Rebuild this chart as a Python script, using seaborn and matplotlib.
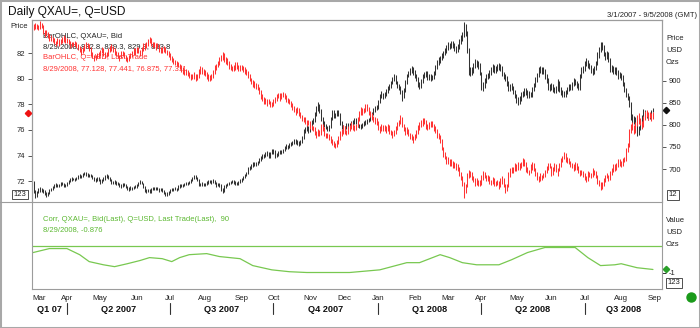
import numpy as np
import pandas as pd
import matplotlib
matplotlib.use("Agg")
import matplotlib.pyplot as plt
import matplotlib.transforms as mtrans
from matplotlib.lines import Line2D
from matplotlib.patches import Rectangle
import seaborn as sns

# ---------------------------------------------------------------- data
# Daily bars, one entry per weekday from 2007-03-01 to 2008-08-29.
gold_low = [
    664, 646,
    634, 636, 645, 649, 647,
    646, 642, 637, 639, 644,
    650, 652, 656, 660, 659,
    660, 662, 663, 660, 659,
    662, 666, 670, 673, 675,
    673, 675, 678, 680, 679,
    681, 686, 685, 681, 682,
    681, 677, 672, 670, 672,
    673, 667, 668, 672, 676,
    679, 677, 672, 665, 665,
    666, 664, 663, 660, 658,
    660, 661, 657, 653, 651,
    653, 653, 654, 656, 658,
    662, 665, 665, 657, 648,
    646, 647, 645, 646, 652,
    652, 653, 652, 649, 650,
    647, 643, 639, 640, 642,
    646, 650, 651, 652, 651,
    653, 658, 659, 660, 662,
    663, 664, 666, 669, 672,
    678, 677, 673, 661, 661,
    662, 661, 662, 664, 667,
    668, 667, 668, 665, 660,
    661, 660, 650, 645, 648,
    658, 661, 663, 665, 668,
    667, 664, 663, 664, 668,
    671, 674, 680, 684, 688,
    697, 701, 705, 706, 707,
    710, 713, 718, 722, 726,
    727, 730, 724, 726, 733,
    735, 726, 727, 729, 733,
    734, 736, 740, 745, 745,
    748, 752, 754, 757, 757,
    755, 753, 755, 759, 767,
    782, 786, 782, 783, 792,
    801, 806, 820, 832, 826,
    808, 799, 795, 790, 785,
    787, 793, 810, 815, 815,
    819, 820, 800, 791, 785,
    786, 790, 793, 794, 797,
    800, 803, 803, 796, 793,
    791, 793, 797, 800, 803,
    806, 809, 815, 822, 829,
    834, 837, 849, 861, 859,
    860, 865, 872, 879, 884,
    893, 899, 892, 883, 878,
    870, 853, 860, 874, 893,
    908, 912, 918, 914, 906,
    900, 885, 882, 884, 895,
    906, 908, 901, 902, 900,
    901, 904, 914, 926, 936,
    940, 946, 952, 958, 962,
    970, 971, 974, 975, 968,
    962, 964, 972, 984, 990,
    1000, 1002, 962, 914, 910,
    912, 918, 928, 932, 926,
    912, 880, 876, 883, 894,
    903, 907, 914, 920, 918,
    918, 922, 925, 922, 910,
    905, 900, 888, 876, 876,
    878, 870, 860, 850, 844,
    848, 855, 862, 866, 868,
    860, 861, 862, 864, 876,
    886, 898, 908, 918, 915,
    915, 905, 895, 880, 876,
    879, 874, 872, 873, 876,
    875, 867, 864, 862, 864,
    870, 876, 878, 880, 887,
    890, 884, 878, 880, 906,
    918, 922, 934, 928, 926,
    918, 912, 915, 924, 936,
    952, 966, 970, 955, 948,
    950, 942, 920, 920, 915,
    916, 912, 905, 906, 902,
    888, 874, 862, 856, 840,
    812, 804, 802, 796, 775,
    776, 788, 800, 812, 818,
    816, 812, 814, 818, 829.9,
]
gold_high = [
    677, 672,
    652, 650, 656, 659, 658,
    655, 652, 647, 649, 655,
    658, 661, 665, 668, 667,
    667, 671, 670, 668, 667,
    671, 675, 679, 681, 680,
    680, 683, 686, 688, 687,
    691, 694, 693, 690, 689,
    689, 686, 682, 679, 681,
    681, 678, 677, 681, 686,
    688, 686, 682, 678, 673,
    674, 673, 670, 668, 666,
    669, 668, 666, 662, 659,
    661, 660, 661, 663, 667,
    671, 674, 673, 669, 662,
    655, 655, 654, 657, 660,
    660, 660, 659, 657, 657,
    656, 652, 648, 647, 651,
    655, 657, 658, 659, 658,
    663, 667, 666, 667, 669,
    670, 671, 673, 677, 683,
    687, 686, 682, 678, 669,
    670, 669, 669, 673, 676,
    676, 675, 677, 676, 670,
    669, 668, 666, 657, 663,
    667, 669, 670, 673, 675,
    675, 672, 670, 673, 677,
    679, 685, 689, 694, 704,
    707, 711, 715, 715, 716,
    719, 724, 730, 734, 735,
    738, 740, 738, 739, 746,
    746, 742, 736, 740, 744,
    744, 746, 752, 756, 755,
    760, 762, 764, 768, 767,
    766, 764, 766, 774, 790,
    795, 799, 797, 800, 810,
    815, 829, 842, 852, 847,
    835, 818, 808, 803, 798,
    800, 818, 834, 833, 827,
    834, 834, 828, 808, 799,
    798, 804, 804, 805, 809,
    810, 816, 815, 811, 803,
    801, 804, 808, 810, 814,
    815, 821, 829, 838, 842,
    845, 856, 870, 876, 873,
    874, 882, 888, 893, 900,
    908, 915, 912, 900, 892,
    888, 880, 884, 902, 916,
    922, 928, 933, 931, 924,
    915, 909, 896, 905, 916,
    919, 923, 921, 916, 916,
    913, 922, 935, 946, 953,
    955, 962, 968, 974, 980,
    988, 986, 990, 989, 986,
    978, 983, 994, 1004, 1010,
    1034, 1028, 1012, 975, 930,
    930, 940, 950, 948, 944,
    940, 920, 896, 906, 916,
    918, 925, 930, 937, 936,
    933, 938, 940, 938, 933,
    920, 916, 910, 899, 893,
    894, 888, 880, 871, 862,
    866, 874, 876, 884, 884,
    878, 876, 875, 885, 895,
    908, 918, 932, 934, 932,
    930, 926, 916, 906, 892,
    894, 892, 886, 887, 903,
    900, 886, 878, 876, 880,
    885, 892, 892, 897, 906,
    905, 900, 895, 916, 930,
    934, 945, 952, 948, 940,
    935, 928, 933, 945, 964,
    976, 988, 987, 982, 964,
    968, 966, 952, 936, 934,
    932, 930, 924, 920, 918,
    912, 898, 884, 872, 866,
    852, 824, 820, 818, 806,
    797, 812, 822, 836, 834,
    832, 828, 828, 834, 839.3,
]
usd_low = [
    83.7, 83.8,
    83.9, 83.9, 83.8, 83.9, 84.0,
    83.5, 83.3, 83.4, 83.2, 83.0,
    83.0, 82.9, 82.7, 82.6, 82.7,
    82.6, 82.7, 82.8, 82.9, 82.8,
    82.8, 82.7, 82.4, 82.5, 82.6,
    82.6, 82.4, 82.3, 82.1, 81.9,
    82.0, 82.2, 82.4, 82.4, 82.2,
    81.8, 81.6, 81.4, 81.5, 81.6,
    81.6, 81.8, 82.0, 81.8, 81.6,
    81.7, 81.8, 82.1, 82.2, 82.1,
    81.9, 81.8, 81.6, 81.4, 81.6,
    81.8, 81.6, 81.4, 81.3, 81.4,
    81.6, 81.7, 81.9, 81.9, 82.0,
    82.0, 81.8, 81.9, 82.2, 82.3,
    82.4, 82.6, 82.8, 82.6, 82.4,
    82.5, 82.3, 82.4, 82.1, 82.0,
    82.0, 82.1, 82.0, 81.9, 81.7,
    81.5, 81.3, 81.2, 81.1, 81.0,
    80.9, 80.8, 80.5, 80.4, 80.3,
    80.3, 80.2, 80.1, 79.9, 80.0,
    80.0, 79.8, 79.9, 80.1, 80.4,
    80.4, 80.3, 80.2, 80.0, 79.8,
    79.8, 79.9, 80.1, 80.4, 80.7,
    80.9, 81.1, 81.4, 81.5, 81.3,
    81.2, 81.1, 80.8, 80.7, 80.6,
    80.6, 80.7, 80.8, 80.6, 80.6,
    80.7, 80.5, 80.4, 80.3, 80.1,
    79.8, 79.6, 79.4, 79.3, 79.2,
    79.1, 78.8, 78.4, 78.3, 78.0,
    78.0, 77.9, 78.0, 77.8, 77.8,
    77.9, 78.1, 78.3, 78.5, 78.3,
    78.4, 78.6, 78.4, 78.2, 78.1,
    78.0, 77.8, 77.6, 77.4, 77.2,
    77.3, 77.1, 76.9, 76.7, 76.6,
    76.5, 76.3, 76.4, 76.1, 76.0,
    75.9, 75.6, 75.4, 75.5, 75.5,
    75.6, 75.9, 75.5, 75.4, 75.4,
    75.2, 75.0, 74.8, 74.7, 74.6,
    74.7, 74.9, 75.2, 75.5, 75.7,
    75.7, 75.6, 75.7, 75.9, 76.1,
    76.0, 75.9, 76.0, 76.2, 76.7,
    77.2, 77.2, 77.3, 77.4, 77.5,
    77.2, 77.0, 76.8, 76.6, 76.5,
    76.4, 76.0, 75.8, 75.9, 75.9,
    75.9, 75.8, 75.9, 75.7, 75.6,
    75.4, 75.5, 75.7, 76.0, 76.3,
    76.5, 76.2, 75.9, 75.6, 75.7,
    75.5, 75.3, 75.2, 75.0, 75.2,
    75.4, 75.7, 76.0, 76.2, 76.3,
    76.5, 76.1, 76.0, 76.1, 76.2,
    76.2, 75.9, 75.8, 75.4, 75.3,
    75.0, 74.4, 73.9, 73.7, 73.3,
    73.3, 73.2, 73.2, 73.0, 73.0,
    72.9, 72.8, 72.4, 72.1, 71.6,
    70.7, 71.1, 71.5, 72.2, 72.3,
    72.1, 71.9, 71.6, 71.7, 71.6,
    71.6, 71.7, 72.1, 72.2, 72.0,
    72.0, 71.8, 71.7, 71.8, 71.6,
    71.6, 71.7, 71.4, 71.5, 71.8,
    71.5, 71.1, 71.2, 71.5, 72.3,
    72.6, 72.6, 72.8, 72.8, 72.9,
    72.9, 73.0, 73.2, 73.2, 72.7,
    72.6, 72.5, 72.6, 72.9, 72.8,
    72.4, 72.1, 71.9, 72.0, 72.1,
    72.2, 72.3, 72.6, 72.9, 73.0,
    72.4, 72.5, 72.8, 72.7, 72.4,
    72.8, 73.1, 73.5, 73.7, 73.5,
    73.4, 73.3, 73.1, 73.0, 72.8,
    72.9, 72.9, 72.6, 72.4, 72.5,
    72.3, 72.1, 71.9, 72.0, 72.3,
    72.2, 72.3, 72.5, 72.2, 71.8,
    71.6, 71.3, 71.4, 71.6, 71.9,
    72.2, 72.0, 72.1, 72.5, 72.7,
    72.8, 72.9, 73.1, 73.2, 73.1,
    73.2, 73.5, 73.6, 74.3, 74.7,
    75.8, 76.0, 75.7, 75.8, 76.3,
    76.5, 76.4, 76.1, 76.2, 76.8,
    77.0, 76.8, 76.9, 76.7, 76.875,
]
usd_high = [
    84.2, 84.3,
    84.4, 84.3, 84.2, 84.5, 84.4,
    84.2, 83.8, 83.8, 83.7, 83.5,
    83.4, 83.3, 83.2, 83.0, 83.2,
    83.1, 83.1, 83.3, 83.4, 83.3,
    83.2, 83.1, 83.0, 82.9, 82.9,
    83.0, 82.9, 82.7, 82.6, 82.4,
    82.5, 82.7, 82.9, 82.8, 82.7,
    82.5, 82.1, 81.9, 81.9, 82.0,
    82.1, 82.3, 82.5, 82.4, 82.1,
    82.1, 82.4, 82.6, 82.7, 82.6,
    82.4, 82.2, 82.1, 81.9, 82.2,
    82.2, 82.1, 81.9, 81.7, 81.9,
    82.0, 82.2, 82.4, 82.4, 82.5,
    82.5, 82.3, 82.5, 82.8, 82.8,
    82.9, 83.1, 83.3, 83.2, 82.9,
    82.9, 82.8, 82.8, 82.7, 82.5,
    82.5, 82.6, 82.5, 82.3, 82.2,
    82.0, 81.8, 81.6, 81.5, 81.4,
    81.3, 81.2, 81.1, 80.9, 80.8,
    80.8, 80.7, 80.5, 80.4, 80.4,
    80.5, 80.4, 80.4, 80.8, 81.0,
    80.9, 80.8, 80.7, 80.5, 80.4,
    80.3, 80.4, 80.7, 81.1, 81.2,
    81.4, 81.7, 81.9, 82.1, 82.0,
    81.7, 81.6, 81.4, 81.2, 81.0,
    81.1, 81.3, 81.3, 81.1, 81.1,
    81.1, 81.0, 80.9, 80.8, 80.6,
    80.4, 80.1, 79.9, 79.8, 79.7,
    79.6, 79.4, 79.1, 78.8, 78.6,
    78.5, 78.4, 78.4, 78.3, 78.2,
    78.4, 78.6, 78.8, 78.9, 78.9,
    78.9, 79.0, 78.9, 78.7, 78.5,
    78.4, 78.3, 78.1, 77.9, 77.7,
    77.8, 77.7, 77.4, 77.2, 77.0,
    77.0, 76.8, 76.8, 76.7, 76.4,
    76.3, 76.2, 75.9, 76.1, 76.0,
    76.5, 76.5, 76.2, 75.8, 75.8,
    75.7, 75.5, 75.3, 75.1, 75.0,
    75.2, 75.5, 75.9, 76.1, 76.4,
    76.3, 76.0, 76.3, 76.4, 76.6,
    76.5, 76.4, 76.5, 77.0, 77.5,
    77.8, 77.7, 77.7, 78.0, 78.0,
    77.8, 77.5, 77.3, 77.1, 77.0,
    76.9, 76.7, 76.3, 76.5, 76.4,
    76.4, 76.3, 76.5, 76.4, 76.0,
    75.9, 76.0, 76.3, 76.6, 76.8,
    77.2, 77.0, 76.5, 76.2, 76.2,
    76.1, 75.8, 75.7, 75.5, 75.7,
    76.0, 76.4, 76.6, 76.8, 76.9,
    76.9, 76.8, 76.5, 76.6, 76.7,
    76.7, 76.5, 76.3, 76.1, 75.8,
    75.6, 75.3, 74.7, 74.3, 74.0,
    73.9, 73.7, 73.7, 73.6, 73.5,
    73.4, 73.3, 73.1, 72.7, 72.4,
    71.9, 71.8, 72.6, 72.9, 72.8,
    72.7, 72.4, 72.2, 72.2, 72.1,
    72.1, 72.5, 72.8, 72.7, 72.5,
    72.5, 72.4, 72.1, 72.3, 72.2,
    72.0, 72.1, 72.0, 72.2, 72.4,
    72.2, 71.8, 71.8, 72.7, 73.0,
    73.1, 73.1, 73.4, 73.3, 73.5,
    73.4, 73.5, 73.8, 73.7, 73.5,
    73.1, 72.9, 73.3, 73.5, 73.4,
    73.0, 72.7, 72.4, 72.6, 72.5,
    72.6, 72.9, 73.2, 73.4, 73.4,
    73.2, 73.1, 73.4, 73.3, 73.0,
    73.4, 73.8, 74.0, 74.3, 74.2,
    73.9, 73.8, 73.6, 73.4, 73.3,
    73.5, 73.4, 73.2, 72.9, 72.9,
    72.8, 72.6, 72.4, 72.8, 72.7,
    72.6, 73.0, 72.9, 72.8, 72.5,
    72.1, 71.9, 71.9, 72.2, 72.5,
    72.6, 72.5, 72.8, 73.0, 73.3,
    73.3, 73.4, 73.7, 73.7, 73.6,
    73.8, 73.9, 74.6, 75.0, 76.1,
    76.5, 76.6, 76.4, 76.6, 77.2,
    77.3, 76.9, 76.7, 77.1, 77.5,
    77.6, 77.4, 77.4, 77.3, 77.441,
]
last_gold_close = 833.8
last_usd_close = 77.311

# 90-day correlation of the two series
corr_dates = [
    "2007-03-01", "2007-03-16", "2007-04-02", "2007-04-12", "2007-04-20",
    "2007-05-03", "2007-05-14", "2007-05-24", "2007-06-05", "2007-06-13",
    "2007-06-25", "2007-07-03", "2007-07-10", "2007-07-18", "2007-08-02",
    "2007-08-14", "2007-08-31", "2007-09-12", "2007-09-28", "2007-10-15",
    "2007-10-30", "2007-12-06", "2008-01-02", "2008-01-25", "2008-02-06",
    "2008-02-25", "2008-03-04", "2008-03-14", "2008-03-27", "2008-04-16",
    "2008-04-28", "2008-05-12", "2008-05-27", "2008-06-16", "2008-06-23",
    "2008-07-03", "2008-07-15", "2008-07-28", "2008-08-01", "2008-08-15",
    "2008-08-29",
]
corr_values = [
    -0.25, -0.09, -0.09, -0.32, -0.58,
    -0.70, -0.77, -0.66, -0.54, -0.43,
    -0.47, -0.58, -0.43, -0.32, -0.28,
    -0.39, -0.47, -0.73, -0.89, -0.96,
    -0.99, -0.99, -0.89, -0.62, -0.62,
    -0.32, -0.43, -0.62, -0.70, -0.70,
    -0.51, -0.24, -0.05, -0.05, -0.05,
    -0.43, -0.73, -0.70, -0.66, -0.81,
    -0.876,
]

gold_ticks = [700, 750, 800, 850, 900]
usd_ticks = [72, 74, 76, 78, 80, 82]
quarter_labels = ["Q1 07", "Q2 2007", "Q3 2007", "Q4 2007", "Q1 2008", "Q2 2008", "Q3 2008"]

# ---------------------------------------------------------------- style
sns.set_theme(style="white")
plt.rcParams["font.family"] = ["Liberation Sans", "DejaVu Sans"]

W, H = 700, 328
RED = "#ff3333"
BLACK = "#333333"
GREEN = "#78c850"
GREEN_TXT = "#5cb832"
SPINE = "#9c9c9c"
TXT = "#222222"
FS = 5.5


def fx(px):
    return px / W


def fy(py):
    return 1 - py / H


fig = plt.figure(figsize=(W / 100, H / 100), dpi=100)
fig.patch.set_facecolor("white")

L, R = 31.5, 662
top_main, split, bot_low = 20, 202, 289
ax_gold = fig.add_axes([fx(L), fy(split), (R - L) / W, (split - top_main) / H])
ax_usd = ax_gold.twinx()
ax_corr = fig.add_axes([fx(L), fy(bot_low), (R - L) / W, (bot_low - split) / H])

trade_days = pd.bdate_range("2007-03-01", "2008-09-05")
n = len(gold_low)
pos = np.arange(n)
xmin, xmax = -0.31, 396.7

# ---------------------------------------------------------------- bars
ax_gold.vlines(pos, gold_low, gold_high, color=BLACK, lw=0.75)
ax_usd.vlines(pos, usd_low, usd_high, color=RED, lw=0.75)

ax_gold.set_ylim(625.3, 1037.5)
ax_usd.set_ylim(70.36, 84.61)
for a in (ax_gold, ax_usd, ax_corr):
    a.set_xlim(xmin, xmax)
    a.set_facecolor("none")
ax_gold.set_facecolor("white")

# axis placement: USD index on the left, gold on the right
ax_usd.yaxis.tick_left()
ax_gold.yaxis.tick_right()
ax_gold.set_yticks(gold_ticks)
ax_gold.set_yticklabels([str(v) for v in gold_ticks])
ax_usd.set_yticks(usd_ticks)
ax_usd.set_yticklabels([str(v) for v in usd_ticks])
ax_gold.set_xticks([])
ax_usd.set_xticks([])
for a in (ax_gold, ax_usd):
    a.tick_params(axis="y", length=3, width=0.7, color="#555555", labelsize=FS,
                  labelcolor=TXT, pad=1.5, direction="out")
    for s in a.spines.values():
        s.set_color(SPINE)
        s.set_linewidth(0.8)
    a.spines["bottom"].set_visible(False)
    a.grid(False)

# ---------------------------------------------------------------- correlation
corr_pos = trade_days.searchsorted(pd.to_datetime(corr_dates))
corr_df = pd.DataFrame({"pos": corr_pos, "corr": corr_values})
sns.lineplot(data=corr_df, x="pos", y="corr", ax=ax_corr, color=GREEN, lw=0.9,
             estimator=None, sort=False)
ax_corr.axhline(0, color=GREEN, lw=0.9)
ax_corr.set_ylim(-1.61, 1.66)
ax_corr.set_xlabel("")
ax_corr.set_ylabel("")
ax_corr.yaxis.tick_right()
ax_corr.set_yticks([-1])
ax_corr.set_yticklabels(["-1"])
ax_corr.tick_params(axis="y", length=3, width=0.7, color="#333333", labelsize=FS,
                    labelcolor=TXT, pad=1.5)
for s in ax_corr.spines.values():
    s.set_color(SPINE)
    s.set_linewidth(0.8)
ax_corr.spines["top"].set_visible(False)
ax_corr.grid(False)

# month ticks along the bottom
months = pd.date_range("2007-03-01", "2008-09-01", freq="MS")
month_pos = trade_days.searchsorted(months)
ax_corr.set_xticks(month_pos)
ax_corr.set_xticklabels([""] * len(month_pos))
ax_corr.tick_params(axis="x", length=3, width=0.7, color="#555555", direction="out")

bt = mtrans.blended_transform_factory(ax_corr.transData, fig.transFigure)
for i, (p, m) in enumerate(zip(month_pos, months)):
    ax_corr.text(p if i else 0.3, fy(298.5), m.strftime("%b"), transform=bt,
                 ha="left" if i == 0 else "center", va="center",
                 fontsize=5.7, color=TXT)

q_starts = pd.to_datetime(["2007-04-01", "2007-07-01", "2007-10-01",
                           "2008-01-01", "2008-04-01", "2008-07-01"])
q_pos = trade_days.searchsorted(q_starts)
bounds = [xmin] + list(q_pos) + [xmax]
for lab, a, b in zip(quarter_labels, bounds[:-1], bounds[1:]):
    ax_corr.text((a + b) / 2, fy(309), lab, transform=bt, ha="center", va="center",
                 fontsize=6.6, fontweight="bold", color="#111111")
for p in q_pos:
    ax_corr.add_line(Line2D([p, p], [fy(302.5), fy(313.5)], transform=bt,
                            color="#333333", lw=0.8, clip_on=False))

# ---------------------------------------------------------------- last-value markers
tr_l = mtrans.blended_transform_factory(ax_usd.transAxes, ax_usd.transData)
ax_usd.plot([-0.0056], [last_usd_close], marker="D", ms=3.2, color="#ee1111",
            transform=tr_l, clip_on=False)
tr_r = mtrans.blended_transform_factory(ax_gold.transAxes, ax_gold.transData)
ax_gold.plot([1.0063], [last_gold_close], marker="D", ms=3.2, color="#111111",
             transform=tr_r, clip_on=False)
tr_c = mtrans.blended_transform_factory(ax_corr.transAxes, ax_corr.transData)
ax_corr.plot([1.0063], [corr_values[-1]], marker="D", ms=3.2, color="#2aa02a",
             transform=tr_c, clip_on=False)

# ---------------------------------------------------------------- legend texts
ft = fig.transFigure
leg = [
    ("BarOHLC, QXAU=, Bid", 36.5, TXT),
    ("8/29/2008, 832.8, 839.3, 829.9, 833.8", 46.5, TXT),
    ("BarOHLC, Q=USD, Last Trade", 57.5, RED),
    ("8/29/2008, 77.128, 77.441, 76.875, 77.311", 68.5, RED),
]
for s, py, c in leg:
    ax_gold.text(fx(43), fy(py), s, transform=ft, fontsize=FS, color=c,
                 va="center", ha="left", zorder=1)
ax_corr.text(fx(43), fy(219.5), "Corr, QXAU=, Bid(Last), Q=USD, Last Trade(Last),  90",
             transform=ft, fontsize=FS, color=GREEN_TXT, va="center", ha="left")
ax_corr.text(fx(43), fy(229.5), "8/29/2008, -0.876", transform=ft, fontsize=FS,
             color=GREEN_TXT, va="center", ha="left")

# ---------------------------------------------------------------- headings and units
fig.text(fx(8), fy(11.5), "Daily QXAU=, Q=USD", fontsize=8.6, color="#111111",
         va="center", ha="left")
fig.text(fx(697), fy(15.5), "3/1/2007 - 9/5/2008 (GMT)", fontsize=FS, color=TXT,
         va="center", ha="right")
fig.text(fx(27.5), fy(26), "Price", fontsize=FS, color=TXT, va="center", ha="right")
for s, py in (("Price", 38), ("USD", 50), ("Ozs", 62)):
    fig.text(fx(666), fy(py), s, fontsize=FS, color=TXT, va="center", ha="left")
for s, py in (("Value", 220), ("USD", 232), ("Ozs", 244)):
    fig.text(fx(666), fy(py), s, fontsize=FS, color=TXT, va="center", ha="left")

box = dict(boxstyle="square,pad=0.18", fc="white", ec="#333333", lw=0.6)
fig.text(fx(20), fy(194.5), "123", fontsize=FS, color=TXT, va="center", ha="center", bbox=box)
fig.text(fx(673), fy(195), "12", fontsize=FS, color=TXT, va="center", ha="center", bbox=box)
fig.text(fx(674), fy(283), "123", fontsize=FS, color=TXT, va="center", ha="center", bbox=box)

# status dot, panel divider and outer frame
fig.add_artist(Line2D([fx(691)], [fy(297)], marker="o", ms=6.5, color="#1a9a1a",
                      transform=ft))
fig.add_artist(Line2D([0, fx(R)], [fy(split), fy(split)], color=SPINE, lw=0.8,
                      transform=ft))
fig.add_artist(Rectangle((0, 0), 1, 1, transform=ft, fill=False, ec="#a8a8a8", lw=2.2))

fig.savefig("out.png", dpi=100, facecolor="white")
